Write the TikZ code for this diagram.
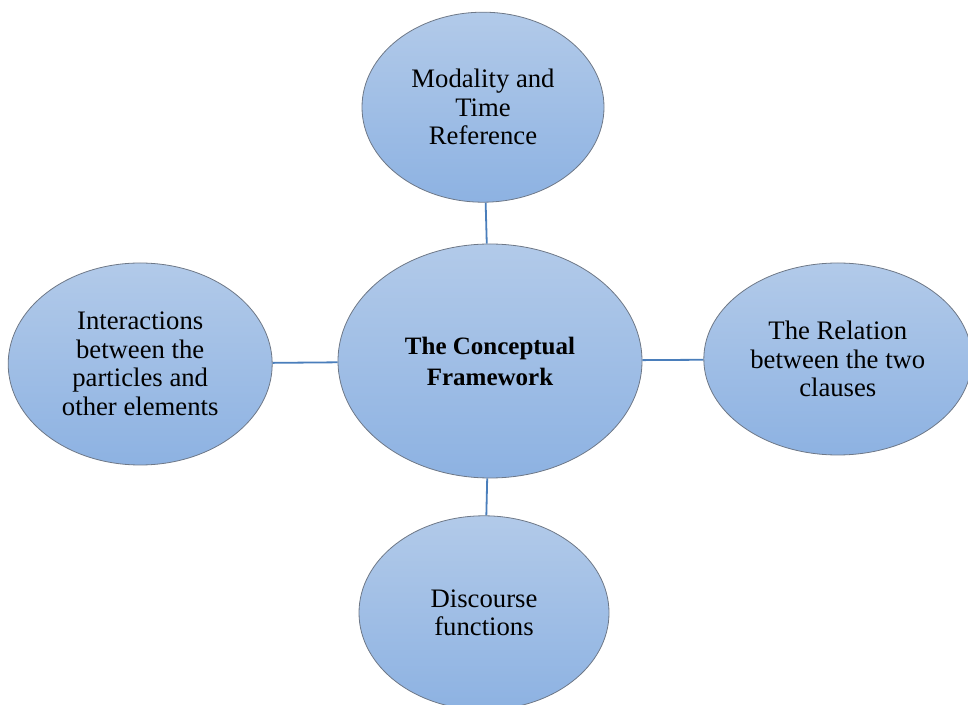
\documentclass[tikz,border=0pt]{standalone}
\usepackage{fontspec}
\setmainfont{Liberation Serif}
\usepackage{tikz}
\usetikzlibrary{shapes.geometric,positioning}
\usepackage{xcolor}
\definecolor{bubtop}{RGB}{178,202,233}
\definecolor{bubbot}{RGB}{141,178,226}
\definecolor{bubedge}{RGB}{110,120,135}
\definecolor{linkblue}{RGB}{74,126,187}
\tikzset{
  bubble/.style={ellipse,draw=bubedge,line width=0.8pt,top color=bubtop,bottom color=bubbot,
    inner sep=0pt,align=center,font=\fontsize{26.7}{28.5}\selectfont},
  hubble/.style={bubble,font=\bfseries\fontsize{25}{31}\selectfont},
}
\begin{document}
\begin{tikzpicture}[
    x=1pt,y=1pt,
    link/.style={draw=linkblue,line width=1.8pt},
  ]
    \clip (0,0) rectangle (968,704);

    %────────── CENTRE ─────────────
    \node[hubble,minimum width=304pt,minimum height=234pt] (hub) at (490,343) {The Conceptual\\Framework};

    %────────── TOP ────────────────
    \node[bubble,minimum width=242pt,minimum height=190pt,above=41pt of hub,xshift=-7pt] (modal) {Modality and\\Time\\Reference};
    \draw[link] (modal) -- (hub);

    %────────── LEFT ───────────────
    \node[bubble,minimum width=264pt,minimum height=202pt,left=65pt of hub,yshift=-3pt] (inter) {Interactions\\between the\\particles and\\other elements};
    \draw[link] (inter) -- (hub);

    %────────── RIGHT ──────────────
    \node[bubble,minimum width=268pt,minimum height=192pt,right=61pt of hub,yshift=2pt] (relat) {The Relation\\between the two\\clauses};
    \draw[link] (hub) -- (relat);

    %────────── BOTTOM ─────────────
    \node[bubble,minimum width=250pt,minimum height=194pt,below=37pt of hub,xshift=-6pt] (disc) {Discourse\\functions};
    \draw[link] (hub) -- (disc);
  \end{tikzpicture}
\end{document}
